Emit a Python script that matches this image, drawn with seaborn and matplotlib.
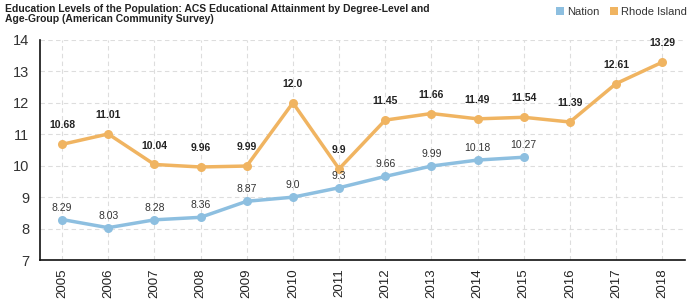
import matplotlib
matplotlib.use("Agg")
import matplotlib.pyplot as plt
import seaborn as sns
import pandas as pd
import numpy as np
from matplotlib.ticker import MultipleLocator
from matplotlib.lines import Line2D
from matplotlib import font_manager

years = [2005, 2006, 2007, 2008, 2009, 2010, 2011, 2012, 2013, 2014, 2015, 2016, 2017, 2018]
nation_years = [2005, 2006, 2007, 2008, 2009, 2010, 2011, 2012, 2013, 2014, 2015]
nation = [8.29, 8.03, 8.28, 8.36, 8.87, 9.0, 9.3, 9.66, 9.99, 10.18, 10.27]
nation_labels = ["8.29", "8.03", "8.28", "8.36", "8.87", "9.0", "9.3", "9.66", "9.99", "10.18", "10.27"]
ri = [10.68, 11.01, 10.04, 9.96, 9.99, 12.0, 9.9, 11.45, 11.66, 11.49, 11.54, 11.39, 12.61, 13.29]
ri_labels = ["10.68", "11.01", "10.04", "9.96", "9.99", "12.0", "9.9", "11.45", "11.66", "11.49", "11.54", "11.39", "12.61", "13.29"]
series_names = ["Nation", "Rhode Island"]
colors = {"Nation": "#8dbfe0", "Rhode Island": "#f0b461"}

df = pd.concat([
    pd.DataFrame({"year": nation_years, "value": nation, "series": "Nation"}),
    pd.DataFrame({"year": years, "value": ri, "series": "Rhode Island"}),
])

sns.set_style("white")
plt.rcParams["font.family"] = ["Liberation Sans", "DejaVu Sans"]

names = {f.name for f in font_manager.fontManager.ttflist}
narrow = "Liberation Sans Narrow" if "Liberation Sans Narrow" in names else "Liberation Sans"

fig = plt.figure(figsize=(7, 3), dpi=100)
ax = fig.add_axes([0.057, 0.133, 0.922, 0.734])

sns.lineplot(data=df, x="year", y="value", hue="series", palette=colors,
             marker="o", markersize=6.5, markeredgewidth=0, linewidth=2.5,
             legend=False, ax=ax, zorder=3)

for x, y, t in zip(nation_years, nation, nation_labels):
    ax.annotate(t, (x, y), xytext=(0, 5), textcoords="offset points",
                ha="center", va="bottom", fontsize=7.5, color="#333333")
for x, y, t in zip(years, ri, ri_labels):
    ax.annotate(t, (x, y), xytext=(0, 10), textcoords="offset points",
                ha="center", va="bottom", fontsize=7.5, fontweight="bold", color="#222222")

ax.set_xlim(2004.52, 2018.5)
ax.set_ylim(7, 14)
ax.set_xticks(years)
ax.set_xticklabels([str(y) for y in years], rotation=90, fontsize=9.5, color="#222222")
ax.yaxis.set_major_locator(MultipleLocator(1))
ax.yaxis.set_minor_locator(MultipleLocator(0.5))
ax.tick_params(axis="y", which="major", labelsize=10.5, length=4, color="#222222", labelcolor="#333333", direction="out")
ax.tick_params(axis="y", which="minor", length=3, color="#e03030", direction="out")
ax.tick_params(axis="x", which="major", length=4, color="#222222", direction="out", pad=2)
ax.set_xlabel("")
ax.set_ylabel("")
ax.grid(True, which="major", color="#dddddd", linestyle=(0, (4, 3)), linewidth=0.8)
ax.set_axisbelow(True)
for s in ["top", "right"]:
    ax.spines[s].set_visible(False)
for s in ["left", "bottom"]:
    ax.spines[s].set_color("#111111")
    ax.spines[s].set_linewidth(1.2)

fig.text(0.007, 0.985, "Education Levels of the Population: ACS Educational Attainment by Degree-Level and\nAge-Group (American Community Survey)",
         ha="left", va="top", fontsize=7.5, fontweight="bold", color="#222222", linespacing=1.0,
         family=[narrow, "DejaVu Sans"])

handles = [Line2D([0], [0], marker="s", linestyle="", markersize=5.5, markerfacecolor=colors[n], markeredgewidth=0) for n in series_names]
fig.legend(handles, series_names, loc="upper right", bbox_to_anchor=(0.995, 1.01), ncol=2, frameon=False,
           prop={"family": [narrow, "DejaVu Sans"], "size": 8},
           handletextpad=0.1, columnspacing=0.8, handlelength=1.0, labelcolor="#333333")

fig.savefig("out.png", dpi=100)
